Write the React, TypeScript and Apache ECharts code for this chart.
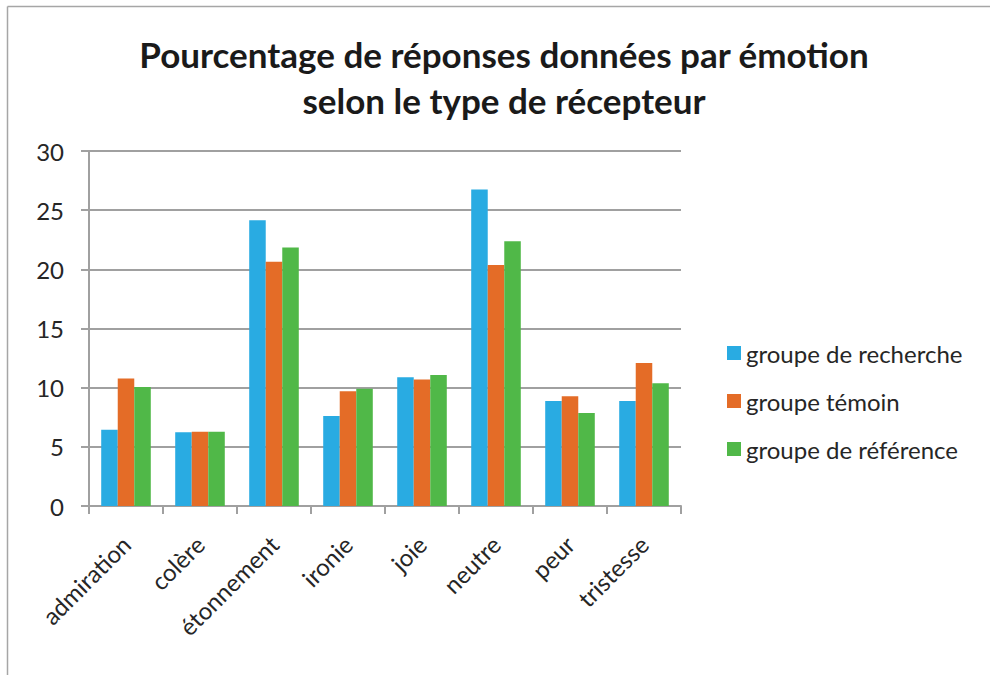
import React, { useEffect, useRef } from "react";
import * as echarts from "echarts";

const categories = ["admiration", "colère", "étonnement", "ironie", "joie", "neutre", "peur", "tristesse"];
const seriesNames = ["groupe de recherche", "groupe témoin", "groupe de référence"];
const recherche = [6.45, 6.23, 24.15, 7.6, 10.87, 26.75, 8.87, 8.87];
const temoin = [10.77, 6.28, 20.65, 9.7, 10.68, 20.37, 9.27, 12.08];
const reference = [10.06, 6.28, 21.85, 9.9, 11.07, 22.38, 7.86, 10.37];
const colors = ["#29ABE2", "#E46C27", "#50B848"];
const yTicks = { min: 0, max: 30, interval: 5 };

const FONT = "Lato";

export default function App() {
  const ref = useRef<HTMLDivElement>(null);
  useEffect(() => {
    if (!ref.current) return;
    const chart = echarts.init(ref.current, undefined, { renderer: "svg" });
    const data = [recherche, temoin, reference];
    chart.setOption({
      animation: false,
      backgroundColor: "#ffffff",
      textStyle: { fontFamily: FONT },
      title: {
        text: "Pourcentage de réponses données par émotion\nselon le type de récepteur",
        left: 499,
        top: 26,
        textAlign: "center",
        textStyle: {
          fontFamily: FONT,
          fontWeight: "bold",
          fontSize: 35,
          lineHeight: 46,
          color: "#1a1a1a",
        },
      },
      graphic: [
        { type: "line", shape: { x1: 7.5, y1: 6.5, x2: 990, y2: 6.5 }, style: { stroke: "#a6a6a6", lineWidth: 1.5 } },
        { type: "line", shape: { x1: 7.5, y1: 6.5, x2: 7.5, y2: 675 }, style: { stroke: "#a6a6a6", lineWidth: 1.5 } },
      ],
      legend: {
        orient: "vertical",
        left: 722,
        top: 336,
        itemWidth: 14,
        itemHeight: 14,
        itemGap: 24,
        icon: "rect",
        data: seriesNames,
        textStyle: { fontFamily: FONT, fontSize: 24, lineHeight: 24, color: "#262626", padding: [0, 0, 0, 0] },
      },
      grid: { left: 89, right: 309, top: 151, bottom: 169, containLabel: false },
      xAxis: {
        type: "category",
        data: categories,
        axisLine: { show: true, lineStyle: { color: "#a0a0a0", width: 2 } },
        axisTick: { show: true, length: 8, lineStyle: { color: "#a0a0a0", width: 2 } },
        axisLabel: { rotate: 45, fontSize: 24, color: "#262626", margin: 34, fontFamily: FONT },
      },
      yAxis: {
        type: "value",
        min: yTicks.min,
        max: yTicks.max,
        interval: yTicks.interval,
        axisLine: { show: true, lineStyle: { color: "#a0a0a0", width: 2 } },
        axisTick: { show: true, length: 8, lineStyle: { color: "#a0a0a0", width: 2 } },
        splitLine: { show: true, lineStyle: { color: "#a0a0a0", width: 2 } },
        axisLabel: { fontSize: 24, color: "#262626", margin: 25, fontFamily: FONT },
      },
      series: seriesNames.map((name, i) => ({
        name,
        type: "bar",
        data: data[i],
        barGap: "0%",
        barCategoryGap: "33%",
        itemStyle: { color: colors[i] },
      })),
    });
    return () => chart.dispose();
  }, []);
  return <div ref={ref} style={{ width: 990, height: 675, position: "absolute", left: 0, top: 0 }} />;
}
